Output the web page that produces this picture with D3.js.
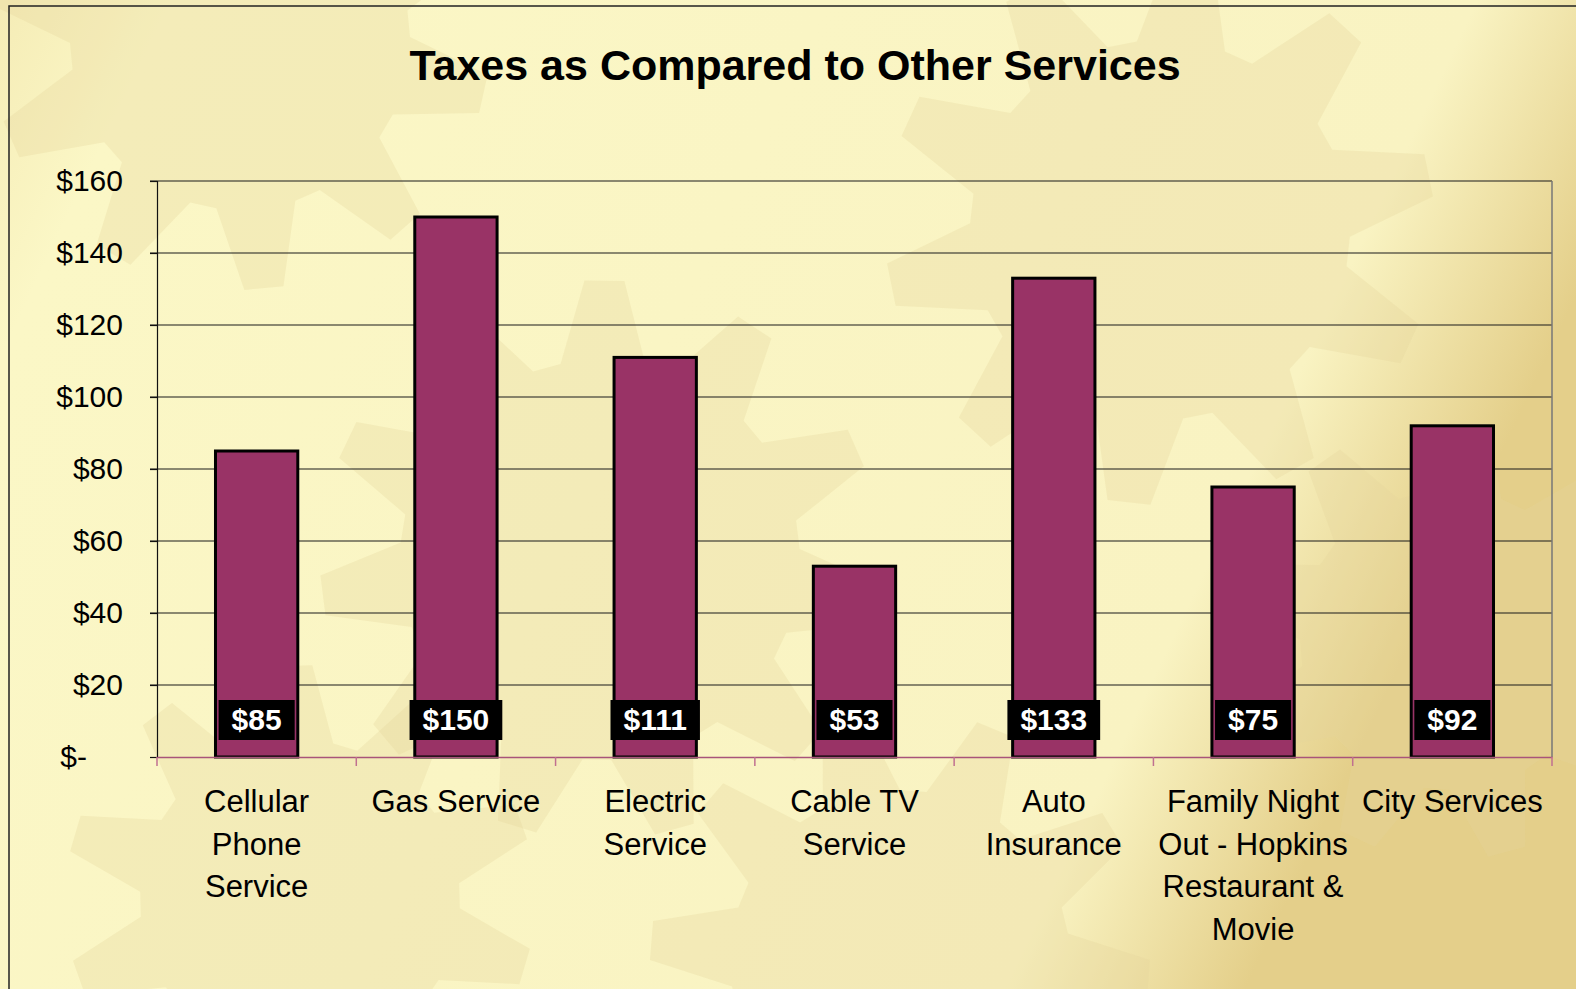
<!DOCTYPE html>
<html>
<head>
<meta charset="utf-8">
<script src="https://cdn.jsdelivr.net/npm/d3@7"></script>
<style>
  body { margin: 0; overflow: hidden; }
  svg { display: block; }
</style>
</head>
<body>
<script>
// chart data
const categories = ["Cellular Phone Service", "Gas Service", "Electric Service", "Cable TV Service",
    "Auto Insurance", "Family Night Out - Hopkins Restaurant & Movie", "City Services"];
const labelLines = [["Cellular", "Phone", "Service"], ["Gas Service"], ["Electric", "Service"],
    ["Cable TV", "Service"], ["Auto", "Insurance"],
    ["Family Night", "Out - Hopkins", "Restaurant &", "Movie"], ["City Services"]];
const values = [85, 150, 111, 53, 133, 75, 92];
const yTicks = [0, 20, 40, 60, 80, 100, 120, 140, 160];
const title = "Taxes as Compared to Other Services";

const W = 1576, H = 989;
const m = { left: 157, right: 1552, top: 181, bottom: 757 };
const font = "Liberation Sans, Arial, sans-serif";

const svg = d3.select("body").append("svg").attr("width", W).attr("height", H);
const defs = svg.append("defs");

// background gradient
const bg = defs.append("linearGradient").attr("id", "bg").attr("x1", 0).attr("x2", 1).attr("y1", 0).attr("y2", 0.3);
bg.append("stop").attr("offset", "0").attr("stop-color", "#f5ecb6");
bg.append("stop").attr("offset", "0.1").attr("stop-color", "#fbf7c6");
bg.append("stop").attr("offset", "0.86").attr("stop-color", "#f9f3c2");
bg.append("stop").attr("offset", "1").attr("stop-color", "#e4cf8a");
svg.append("rect").attr("width", W).attr("height", H).attr("fill", "url(#bg)");

// faint gear shapes in background
function gearPath(r, teeth, depth) {
    const pts = [];
    const n = teeth * 4;
    for (let i = 0; i < n; i++) {
        const a = i / n * 2 * Math.PI;
        const rr = (i % 4 < 2) ? r + depth : r;
        pts.push([rr * Math.cos(a), rr * Math.sin(a)]);
    }
    return "M" + pts.map(p => p.join(",")).join("L") + "Z";
}
const gears = [
    { x: 240, y: 40, r: 170, t: 10, d: 80, rot: 8 },
    { x: 1160, y: 230, r: 190, t: 10, d: 85, rot: 20 },
    { x: 600, y: 560, r: 200, t: 11, d: 80, rot: 5 },
    { x: 1450, y: 640, r: 150, t: 9, d: 70, rot: 30 },
    { x: 300, y: 900, r: 160, t: 10, d: 75, rot: 12 },
    { x: 900, y: 960, r: 170, t: 10, d: 80, rot: 0 }
];
svg.append("g").selectAll("path").data(gears).join("path")
    .attr("d", g => gearPath(g.r, g.t, g.d))
    .attr("transform", g => `translate(${g.x},${g.y}) rotate(${g.rot})`)
    .attr("fill", "#e3d49a").attr("fill-opacity", 0.3);

// outer border
svg.append("rect").attr("x", 9).attr("y", 6).attr("width", W).attr("height", H)
    .attr("fill", "none").attr("stroke", "#222").attr("stroke-width", 1.5);

const x = d3.scaleBand().domain(categories).range([m.left, m.right])
    .paddingInner(0.587).paddingOuter(0.2935);
const y = d3.scaleLinear().domain([0, 160]).range([m.bottom, m.top]);

// gridlines
svg.append("g").selectAll("line").data(yTicks.filter(d => d > 0)).join("line")
    .attr("x1", m.left - 7).attr("x2", m.right)
    .attr("y1", d => y(d)).attr("y2", d => y(d))
    .attr("stroke", "#1a1a1a").attr("stroke-width", 1.2);

// right border of plot area
svg.append("line").attr("x1", m.right).attr("x2", m.right).attr("y1", m.top).attr("y2", m.bottom)
    .attr("stroke", "#777").attr("stroke-width", 1.5);

// y axis
const yAxis = svg.append("g").attr("transform", `translate(${m.left},0)`)
    .call(d3.axisLeft(y).tickValues(yTicks).tickSize(7).tickFormat(d => d === 0 ? "$-" : "$" + d));
yAxis.select(".domain").attr("stroke", "#111").attr("stroke-width", 1.2);
yAxis.selectAll(".tick line").attr("stroke", "#111").attr("stroke-width", 1.2);
yAxis.selectAll(".tick text")
    .attr("x", d => d === 0 ? -70 : -34)
    .attr("font-family", font)
    .attr("font-size", 30).attr("fill", "#000");

// bars
svg.append("g").selectAll("rect").data(values).join("rect")
    .attr("x", (d, i) => x(categories[i]))
    .attr("y", d => y(d))
    .attr("width", x.bandwidth())
    .attr("height", d => y(0) - y(d))
    .attr("fill", "#993366").attr("stroke", "#000").attr("stroke-width", 3);

// x axis baseline and ticks
const xAxis = svg.append("g").attr("transform", `translate(0,${m.bottom})`)
    .call(d3.axisBottom(x).tickSize(0).tickFormat(""));
xAxis.select(".domain").attr("stroke", "#a8547a").attr("stroke-width", 1.5);
const bounds = d3.range(categories.length + 1).map(i => m.left + i * x.step());
svg.append("g").selectAll("line").data(bounds).join("line")
    .attr("x1", d => d).attr("x2", d => d)
    .attr("y1", m.bottom).attr("y2", m.bottom + 9)
    .attr("stroke", "#c07090").attr("stroke-width", 1.5);

// category labels
const catG = svg.append("g").attr("font-family", font)
    .attr("font-size", 31).attr("fill", "#000").attr("text-anchor", "middle");
catG.selectAll("text").data(categories).join("text")
    .attr("x", d => x(d) + x.bandwidth() / 2)
    .attr("y", 812)
    .each(function (d, i) {
        d3.select(this).selectAll("tspan").data(labelLines[i]).join("tspan")
            .attr("x", x(d) + x.bandwidth() / 2)
            .attr("dy", (t, j) => j === 0 ? 0 : 42.5)
            .text(t => t);
    });

// value labels (black boxes)
const lblG = svg.append("g");
values.forEach((v, i) => {
    const cx = x(categories[i]) + x.bandwidth() / 2;
    const t = lblG.append("text").attr("x", cx).attr("y", 730)
        .attr("text-anchor", "middle")
        .attr("font-family", font)
        .attr("font-weight", "bold").attr("font-size", 30).attr("fill", "#fff")
        .text("$" + v);
    const w = t.node().getComputedTextLength() + 26;
    lblG.insert("rect", "text").attr("x", cx - w / 2).attr("y", 700).attr("width", w).attr("height", 40)
        .attr("fill", "#000");
});

// title
svg.append("text").attr("x", 795).attr("y", 80).attr("text-anchor", "middle")
    .attr("font-family", font)
    .attr("font-weight", "bold").attr("font-size", 43).attr("fill", "#000")
    .text(title);
</script>
</body>
</html>
